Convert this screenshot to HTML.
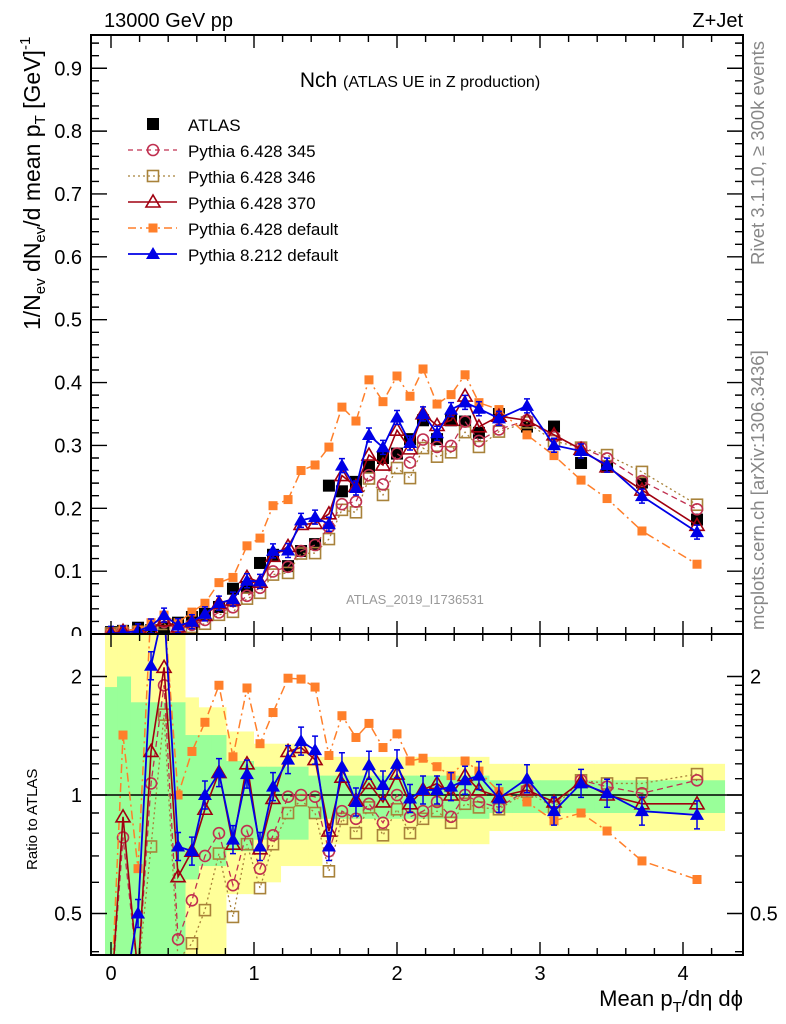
<!DOCTYPE html>
<html><head><meta charset="utf-8"><style>
html,body{margin:0;padding:0;background:#fff;}
svg{display:block;font-family:"Liberation Sans",sans-serif;}
</style></head><body>
<svg id="chart" width="786" height="1024" viewBox="0 0 786 1024" xmlns="http://www.w3.org/2000/svg">
<defs>
<clipPath id="clipMain"><rect x="91" y="35" width="652" height="599"/></clipPath>
<clipPath id="clipRatio"><rect x="91" y="634" width="652" height="321"/></clipPath>
</defs>
<g id="bands" clip-path="url(#clipRatio)"></g>
<g id="mainSeries" clip-path="url(#clipMain)"></g>
<g id="ratioSeries" clip-path="url(#clipRatio)"></g>
<g id="axes"></g>
<text x="104" y="27" font-size="20">13000 GeV pp</text>
<text x="743" y="27" font-size="20" text-anchor="end">Z+Jet</text>
<text x="420" y="87" text-anchor="middle" font-size="21">Nch <tspan font-size="16">(ATLAS UE in Z production)</tspan></text>
<text x="415" y="604" text-anchor="middle" font-size="13" fill="#999">ATLAS_2019_I1736531</text>
<text transform="translate(764,265) rotate(-90)" font-size="18.5" fill="#888">Rivet 3.1.10, ≥ 300k events</text>
<text transform="translate(764,630) rotate(-90)" font-size="18.5" fill="#888">mcplots.cern.ch [arXiv:1306.3436]</text>
<text transform="translate(40,330) rotate(-90)" font-size="23">1/N<tspan font-size="15" dy="5">ev</tspan><tspan dy="-5"> dN</tspan><tspan font-size="15" dy="5">ev</tspan><tspan dy="-5">/d mean p</tspan><tspan font-size="15" dy="5">T</tspan><tspan dy="-5"> [GeV]</tspan><tspan font-size="15" dy="-10">-1</tspan></text>
<text transform="translate(37,870) rotate(-90)" font-size="15">Ratio to ATLAS</text>
<text x="743" y="1006" text-anchor="end" font-size="22">Mean p<tspan font-size="15" dy="6">T</tspan><tspan dy="-6">/dη dϕ</tspan></text>
<g id="legend"></g>
</svg>
<script>
const NS="http://www.w3.org/2000/svg";
const xs=[0.0,0.084,0.189,0.28,0.371,0.469,0.566,0.657,0.755,0.853,0.951,1.042,1.133,1.238,1.329,1.427,1.524,1.615,1.713,1.804,1.902,2.0,2.091,2.182,2.28,2.378,2.476,2.573,2.713,2.909,3.098,3.287,3.469,3.713,4.098];
const atlas=[0.003,0.005,0.01,0.006,0.01,0.018,0.027,0.032,0.043,0.072,0.075,0.113,0.126,0.108,0.132,0.143,0.236,0.227,0.242,0.266,0.28,0.287,0.31,0.34,0.31,0.34,0.338,0.32,0.35,0.33,0.33,0.272,0.266,0.241,0.182];
const r345=[0.3,0.78,0.35,1.07,1.9,0.43,0.54,0.70,0.80,0.59,0.81,0.65,0.79,0.99,1.0,0.99,0.72,0.91,0.87,0.95,0.85,1.0,0.88,0.91,0.96,0.88,1.0,0.96,0.93,1.03,0.95,1.09,1.05,1.01,1.09];
const r346=[0.3,0.35,0.35,0.74,1.6,0.38,0.42,0.51,0.71,0.49,0.75,0.58,0.75,0.90,0.97,0.90,0.64,0.87,0.80,0.93,0.79,0.92,0.80,0.87,0.91,0.85,0.95,0.93,0.92,1.02,0.93,1.09,1.07,1.07,1.13];
const r370=[0.3,0.88,0.35,1.29,2.11,0.62,0.72,0.92,1.14,0.75,1.2,0.73,0.98,1.29,1.32,1.23,0.81,1.11,0.97,1.07,0.96,1.13,0.95,1.03,1.07,1.0,1.12,1.03,0.99,1.03,0.96,1.08,1.0,0.95,0.95];
const rDef6=[0.3,1.42,0.65,3,3,1.0,1.29,1.53,1.90,1.25,1.87,1.35,1.62,1.98,1.97,1.88,1.26,1.59,1.40,1.52,1.32,1.43,1.22,1.24,1.18,1.12,1.22,1.15,1.02,0.96,0.86,0.90,0.81,0.68,0.61];
const rDef8=[0.3,0.3,0.50,2.13,3,0.74,0.72,1.0,1.14,0.77,1.13,0.74,1.05,1.23,1.37,1.30,0.74,1.18,0.96,1.19,1.06,1.2,0.98,1.03,1.03,1.05,1.09,1.12,0.98,1.10,0.91,1.07,1.01,0.91,0.89];
const yellowHi=[2.6,2.6,2.6,2.6,2.6,2.6,1.77,1.67,1.67,1.45,1.45,1.35,1.35,1.35,1.35,1.25,1.25,1.25,1.25,1.25,1.25,1.25,1.25,1.25,1.25,1.25,1.25,1.25,1.2,1.2,1.2,1.2,1.2,1.2,1.2];
const yellowLo=[0.3,0.3,0.3,0.3,0.3,0.3,0.3,0.3,0.3,0.56,0.56,0.6,0.6,0.66,0.66,0.66,0.75,0.75,0.75,0.75,0.75,0.75,0.75,0.75,0.75,0.75,0.75,0.75,0.81,0.81,0.81,0.81,0.81,0.81,0.81];
const greenHi=[1.88,2.0,1.72,1.72,1.72,1.72,1.42,1.42,1.42,1.22,1.22,1.18,1.18,1.18,1.18,1.12,1.12,1.12,1.12,1.12,1.12,1.12,1.12,1.12,1.12,1.12,1.12,1.12,1.09,1.09,1.09,1.09,1.09,1.09,1.09];
const greenLo=[0.3,0.3,0.3,0.3,0.3,0.3,0.61,0.66,0.66,0.72,0.72,0.77,0.77,0.77,0.77,0.87,0.87,0.87,0.87,0.87,0.87,0.87,0.87,0.87,0.87,0.87,0.87,0.87,0.9,0.9,0.9,0.9,0.9,0.9,0.9];
const xTicks=[0,1,2,3,4];
const yTicks=[0.1,0.2,0.3,0.4,0.5,0.6,0.7,0.8,0.9];
const rTicksMajor=[0.5,1,2];

const X=v=>111+143*v;
const Y=v=>634-628.6*v;
const R=r=>795-118.5*Math.log2(r);
function mk(tag,attrs,parent){const e=document.createElementNS(NS,tag);for(const k in attrs)e.setAttribute(k,attrs[k]);parent.appendChild(e);return e;}

const bandsG=document.getElementById('bands');
const mainG=document.getElementById('mainSeries');
const ratioG=document.getElementById('ratioSeries');
const axesG=document.getElementById('axes');
const legG=document.getElementById('legend');

const edges=[];
for(let i=0;i<xs.length;i++){
  const lo=i===0?xs[0]-(xs[1]-xs[0])/2:(xs[i-1]+xs[i])/2;
  const hi=i===xs.length-1?xs[i]+(xs[i]-xs[i-1])/2:(xs[i]+xs[i+1])/2;
  edges.push([lo,hi]);
}
for(let i=0;i<xs.length;i++){
  const [a,b]=edges[i];
  const yb=mk('rect',{x:X(a),y:R(yellowHi[i]),width:X(b)-X(a)+0.5,height:R(yellowLo[i])-R(yellowHi[i]),fill:'#ffff99'},bandsG);
  
  
}
for(let i=0;i<xs.length;i++){
  const [a,b]=edges[i];
  const gb=mk('rect',{x:X(a),y:R(greenHi[i]),width:X(b)-X(a)+0.5,height:R(greenLo[i])-R(greenHi[i]),fill:'#99ff99'},bandsG);
  
  
}
const one=mk('line',{x1:91,x2:743,y1:R(1),y2:R(1),stroke:'#000','stroke-width':1.5},bandsG);



function marker(g,type,cx,cy,color){
  let e;
  if(type==='fsq') e=mk('rect',{x:cx-6,y:cy-6,width:12,height:12,fill:color},g);
  else if(type==='osq') e=mk('rect',{x:cx-5.5,y:cy-5.5,width:11,height:11,fill:'none',stroke:color,'stroke-width':1.6},g);
  else if(type==='ssq') e=mk('rect',{x:cx-4.5,y:cy-4.5,width:9,height:9,fill:color},g);
  else if(type==='circ') e=mk('circle',{cx:cx,cy:cy,r:5.5,fill:'none',stroke:color,'stroke-width':1.6},g);
  else if(type==='otri') e=mk('polygon',{points:`${cx},${cy-7} ${cx-7},${cy+5} ${cx+7},${cy+5}`,fill:'none',stroke:color,'stroke-width':1.6},g);
  else e=mk('polygon',{points:`${cx},${cy-7} ${cx-7},${cy+5} ${cx+7},${cy+5}`,fill:color},g);
  return e;
}
const series=[
  {name:'pythia-6428-346',ratio:r346,color:'#a8823a',dash:'2,3',mk:'osq',w:1.3},
  {name:'pythia-6428-345',ratio:r345,color:'#c03050',dash:'6,4',mk:'circ',w:1.3},
  {name:'pythia-6428-default',ratio:rDef6,color:'#ff7f2a',dash:'9,4,2,4',mk:'ssq',w:1.5},
  {name:'pythia-6428-370',ratio:r370,color:'#a00010',dash:'',mk:'otri',w:1.6},
  {name:'pythia-8212-default',ratio:rDef8,color:'#0000e6',dash:'',mk:'ftri',w:1.8},
];
for(let i=0;i<xs.length;i++){
  const m=marker(mainG,'fsq',X(xs[i]),Y(atlas[i]),'#000');
  
  
}
series.forEach(s=>{
  const mainPts=xs.map((x,i)=>`${X(x)},${Y(atlas[i]*s.ratio[i])}`).join(' ');
  const pl=mk('polyline',{points:mainPts,fill:'none',stroke:s.color,'stroke-width':s.w,'stroke-dasharray':s.dash},mainG);
  
  
  const rPts=xs.map((x,i)=>`${X(x)},${R(s.ratio[i])}`).join(' ');
  const rl=mk('polyline',{points:rPts,fill:'none',stroke:s.color,'stroke-width':s.w,'stroke-dasharray':s.dash},ratioG);
  
  
  for(let i=0;i<xs.length;i++){
    const v=atlas[i]*s.ratio[i];
    if(s.mk==='ftri'){
      const eb=mk('path',{d:`M${X(xs[i])},${Y(v)-7}V${Y(v)+7}M${X(xs[i])-3},${Y(v)-7}h6M${X(xs[i])-3},${Y(v)+7}h6`,stroke:s.color,'stroke-width':1.5,fill:'none'},mainG);
      
      
      const rr=R(s.ratio[i]);
      const eb2=mk('path',{d:`M${X(xs[i])},${rr-14}V${rr+14}M${X(xs[i])-3},${rr-14}h6M${X(xs[i])-3},${rr+14}h6`,stroke:s.color,'stroke-width':1.5,fill:'none'},ratioG);
      
      
    }
    const m=marker(mainG,s.mk,X(xs[i]),Y(v),s.color);
    
    
    const m2=marker(ratioG,s.mk,X(xs[i]),R(s.ratio[i]),s.color);
    
    
  }
});

const f1=mk('rect',{x:91,y:35,width:652,height:599,fill:'none',stroke:'#000','stroke-width':2},axesG);


const f2=mk('rect',{x:91,y:634,width:652,height:321,fill:'none',stroke:'#000','stroke-width':2},axesG);


let d='';
for(let v=-0.0;v<=4.4;v+=0.2){
  const vv=Math.round(v*10)/10; const major=Math.abs(vv-Math.round(vv))<1e-6;
  const L=major?13:7; const px=X(vv);
  d+=`M${px},35v${L}M${px},634v${-L}M${px},634v${L}M${px},955v${-L}`;
}
for(let k=1;k<=47;k++){
  const v=k*0.02; const major=k%5===0; const L=major?16:8; const py=Y(v);
  if(py<35)continue;
  d+=`M91,${py}h${L}M743,${py}h${-L}`;
}
[0.4,0.5,0.6,0.7,0.8,0.9,1,1.1,1.2,1.3,1.4,1.5,1.6,1.7,1.8,1.9,2].forEach(r=>{
  const major=rTicksMajor.includes(r); const L=major?16:8; const py=R(r);
  d+=`M91,${py}h${L}M743,${py}h${-L}`;
});
const tk=mk('path',{d:d,stroke:'#000','stroke-width':1.4,fill:'none'},axesG);


yTicks.forEach(v=>{
  const t=mk('text',{x:82,y:Y(v)+7,'text-anchor':'end','font-size':20},axesG);
  t.textContent=v.toFixed(1);
  
  
});
const z=mk('text',{x:82,y:641,'text-anchor':'end','font-size':20},axesG);
z.textContent='0';


const cover=mk('rect',{x:60,y:636,width:30,height:14,fill:'#fff'},axesG);


rTicksMajor.forEach(r=>{
  const t=mk('text',{x:82,y:R(r)+7,'text-anchor':'end','font-size':20},axesG);
  t.textContent=String(r);
  
  
  if(r!==1){
    const t2=mk('text',{x:750,y:R(r)+7,'font-size':20},axesG);
    t2.textContent=String(r);
    
    
  }
});
xTicks.forEach(v=>{
  const t=mk('text',{x:X(v),y:980,'text-anchor':'middle','font-size':20},axesG);
  t.textContent=String(v);
  
  
});

const legItems=[
  {label:'ATLAS',color:'#000',mk:'fsq',dash:null,w:0},
  {label:'Pythia 6.428 345',color:'#c03050',mk:'circ',dash:'5,4',w:1.3},
  {label:'Pythia 6.428 346',color:'#a8823a',mk:'osq',dash:'2,3',w:1.3},
  {label:'Pythia 6.428 370',color:'#a00010',mk:'otri',dash:'',w:1.6},
  {label:'Pythia 6.428 default',color:'#ff7f2a',mk:'ssq',dash:'8,4,2,4',w:1.5},
  {label:'Pythia 8.212 default',color:'#0000e6',mk:'ftri',dash:'',w:1.8},
];
const legY=[124,150,176,202,228,254];
legItems.forEach((it,i)=>{
  const g=mk('g',{},legG);
  
  
  const y=legY[i];
  if(it.dash!==null) mk('line',{x1:128,x2:177,y1:y,y2:y,stroke:it.color,'stroke-width':it.w,'stroke-dasharray':it.dash},g);
  marker(g,it.mk,153,y,it.color);
  const t=mk('text',{x:188,y:y+7,'font-size':17},g);
  t.textContent=it.label;
});
</script>
</body></html>
